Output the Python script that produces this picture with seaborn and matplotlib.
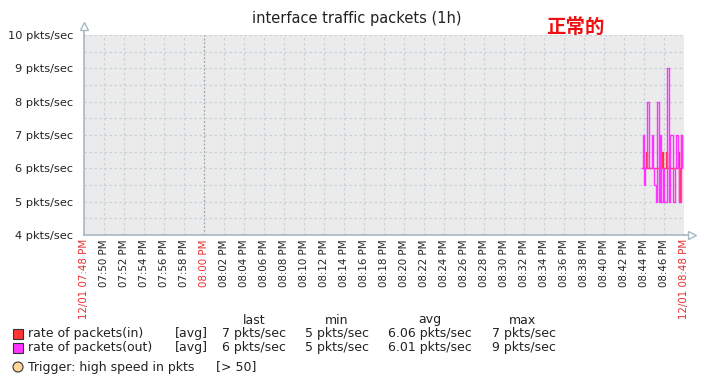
import matplotlib
matplotlib.use("Agg")
import matplotlib.pyplot as plt
import pandas as pd
import seaborn as sns

# minutes since 07:48 PM, one sample per ~6 s
minutes = [55.8, 55.9, 56.0, 56.1, 56.2, 56.3, 56.4, 56.5, 56.6, 56.7,
           56.8, 56.9, 57.0, 57.1, 57.2, 57.3, 57.4, 57.5, 57.6, 57.7,
           57.8, 57.9, 58.0, 58.1, 58.2, 58.3, 58.4, 58.5, 58.6, 58.7,
           58.8, 58.9, 59.0, 59.1, 59.2, 59.3, 59.4, 59.5, 59.6, 59.7,
           59.8]
packets_in = [6, 6, 6, 6, 6.5, 6, 6, 6, 6, 6,
              6, 6, 6, 6, 6, 6, 6, 6, 6, 6,
              6.5, 6, 6, 6, 6.5, 6, 6, 6, 6, 6,
              6, 6, 6, 6, 6, 6, 6.5, 5, 6, 7,
              6]
packets_out = [6, 7, 5.5, 6, 6, 8, 8, 6, 6, 6,
               7, 6, 5.5, 5.5, 5, 8, 8, 5, 7, 5,
               5, 6, 5, 5, 5, 9, 9, 5, 7, 7,
               7, 5, 5, 6, 7, 7, 6, 5, 5, 7,
               6]

tick_minutes = list(range(0, 61, 2))
tick_labels = ["12/01 07:48 PM", "07:50 PM", "07:52 PM", "07:54 PM", "07:56 PM",
               "07:58 PM", "08:00 PM", "08:02 PM", "08:04 PM", "08:06 PM",
               "08:08 PM", "08:10 PM", "08:12 PM", "08:14 PM", "08:16 PM",
               "08:18 PM", "08:20 PM", "08:22 PM", "08:24 PM", "08:26 PM",
               "08:28 PM", "08:30 PM", "08:32 PM", "08:34 PM", "08:36 PM",
               "08:38 PM", "08:40 PM", "08:42 PM", "08:44 PM", "08:46 PM",
               "12/01 08:48 PM"]
red_ticks = ["12/01 07:48 PM", "08:00 PM", "12/01 08:48 PM"]
y_ticks = [4, 5, 6, 7, 8, 9, 10]

legend_names = ["rate of packets(in)", "rate of packets(out)"]
legend_last = ["7 pkts/sec", "6 pkts/sec"]
legend_min = ["5 pkts/sec", "5 pkts/sec"]
legend_avg = ["6.06 pkts/sec", "6.01 pkts/sec"]
legend_max = ["7 pkts/sec", "9 pkts/sec"]

C_IN = "#ff3333"
C_OUT = "#ff33ff"
GRID = "#c8d2d8"
AXIS = "#a8b8c2"
TXT = "#222222"
RED_TXT = "#e83030"

sns.set_style("white")
plt.rcParams["font.family"] = ["DejaVu Sans"]

W, H = 710, 388
fig = plt.figure(figsize=(W / 100, H / 100), dpi=100)
ax = fig.add_axes([84 / W, 1 - 235 / H, 600 / W, 200 / H])
ax.set_facecolor("#ebebeb")

df = pd.DataFrame({"t": minutes, "in": packets_in, "out": packets_out})

# grid
for m in tick_minutes[1:-1]:
    if m == 12:
        ax.axvline(m, color="#9aa4ac", lw=0.9, ls=(0, (1.5, 1.5)), zorder=1)
    else:
        ax.axvline(m, color=GRID, lw=0.9, ls=(0, (2, 2)), zorder=1)
for v in [4.5, 5, 5.5, 6, 6.5, 7, 7.5, 8, 8.5, 9, 9.5, 10]:
    ax.axhline(v, color=GRID, lw=0.9, ls=(0, (2, 2)), zorder=1)

sns.lineplot(data=df, x="t", y="in", ax=ax, color=C_IN, lw=1.0,
             drawstyle="steps-mid", zorder=3)
sns.lineplot(data=df, x="t", y="out", ax=ax, color=C_OUT, lw=1.0,
             drawstyle="steps-mid", zorder=4)

ax.set_xlim(0, 60)
ax.set_ylim(4, 10)
ax.set_xlabel("")
ax.set_ylabel("")

ax.set_yticks(y_ticks)
ax.set_yticklabels([f"{v} pkts/sec" for v in y_ticks], fontsize=8.2, color=TXT)
ax.set_xticks(tick_minutes)
ax.set_xticklabels(tick_labels, rotation=90, fontsize=7.4, color=TXT)
for lbl in ax.get_xticklabels():
    if lbl.get_text() in red_ticks:
        lbl.set_color(RED_TXT)
ax.tick_params(axis="both", length=0, pad=3)
ax.tick_params(axis="y", pad=8)

for s in ["top", "right"]:
    ax.spines[s].set_visible(False)
for s in ["left", "bottom"]:
    ax.spines[s].set_color(AXIS)
    ax.spines[s].set_linewidth(1.2)

# axis arrows
ax.plot([0, 0], [1, 1.03], transform=ax.transAxes, color=AXIS, lw=1.2, clip_on=False)
ax.plot([0], [1.045], transform=ax.transAxes, marker="^", ms=6, mfc="white",
        mec=AXIS, mew=1, clip_on=False)
ax.plot([1, 1.01], [0, 0], transform=ax.transAxes, color=AXIS, lw=1.2, clip_on=False)
ax.plot([1.0135], [0], transform=ax.transAxes, marker=">", ms=6, mfc="white",
        mec=AXIS, mew=1, clip_on=False)

# title and note
fig.text(357 / W, 1 - 18 / H, "interface traffic packets (1h)", ha="center",
         va="center", fontsize=10.5, color=TXT)
fig.text(575 / W, 1 - 27 / H, "正常的", ha="center", va="center", fontsize=14,
         color="#ee1111", fontweight="bold",
         family=["Noto Sans CJK SC", "DejaVu Sans"])


def px(x, y):
    return x / W, 1 - y / H


fs = 9
for hdr, cx in zip(["last", "min", "avg", "max"], [254, 337, 430, 523]):
    fig.text(*px(cx, 320), hdr, ha="center", va="center", fontsize=fs, color=TXT)

colors = [C_IN, C_OUT]
for i, name in enumerate(legend_names):
    y = 334 + 14 * i
    fig.patches.append(plt.Rectangle(px(13, y + 5), 10 / W, 10 / H,
                                     transform=fig.transFigure, facecolor=colors[i],
                                     edgecolor="#333333", lw=0.8))
    fig.text(*px(28, y), name, ha="left", va="center", fontsize=fs, color=TXT)
    fig.text(*px(175, y), "[avg]", ha="left", va="center", fontsize=fs, color=TXT)
    fig.text(*px(222, y), legend_last[i], ha="left", va="center", fontsize=fs, color=TXT)
    fig.text(*px(305, y), legend_min[i], ha="left", va="center", fontsize=fs, color=TXT)
    fig.text(*px(388, y), legend_avg[i], ha="left", va="center", fontsize=fs, color=TXT)
    fig.text(*px(492, y), legend_max[i], ha="left", va="center", fontsize=fs, color=TXT)

fig.patches.append(matplotlib.patches.Ellipse(px(18, 367), 10 / W, 10 / H,
                                              transform=fig.transFigure,
                                              facecolor="#ffd699", edgecolor="#333333",
                                              lw=0.8))
fig.text(*px(28, 367), "Trigger: high speed in pkts", ha="left", va="center",
         fontsize=fs, color=TXT)
fig.text(*px(216, 367), "[> 50]", ha="left", va="center", fontsize=fs, color=TXT)

fig.savefig("out.png", dpi=100, facecolor="white")
